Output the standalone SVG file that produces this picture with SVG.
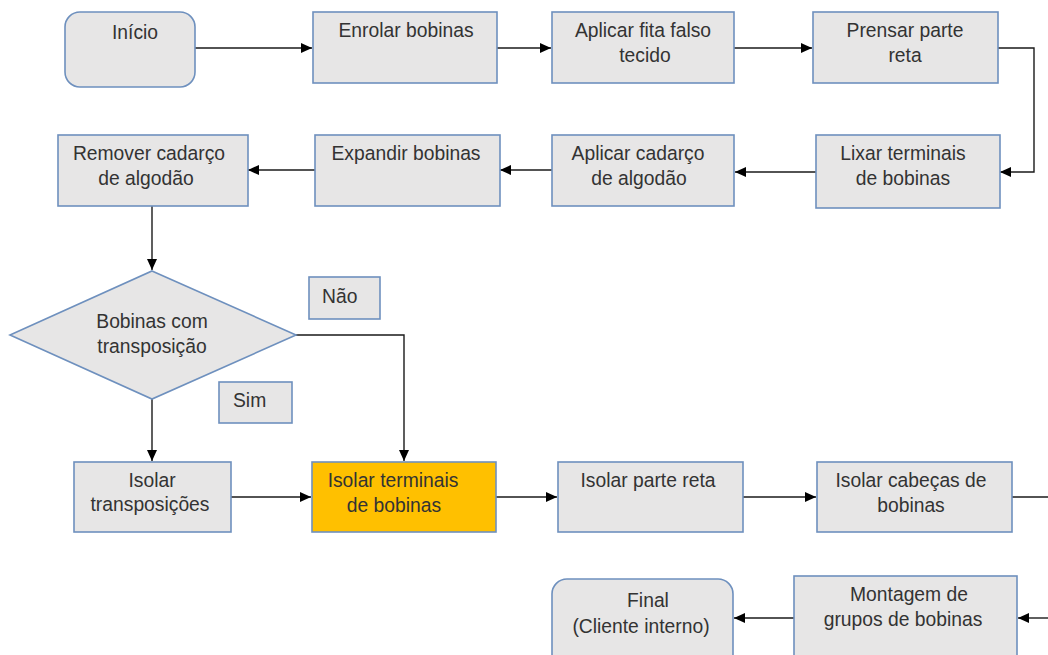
<svg xmlns="http://www.w3.org/2000/svg" width="1048" height="655" viewBox="0 0 1048 655">
<style>
.box{fill:#E7E6E6;stroke:#6E90BE;stroke-width:1.6}
.hl{fill:#FFC000;stroke:#6E90BE;stroke-width:1.6}
.t{font-family:"Liberation Sans",Arial,sans-serif;font-size:19.3px;fill:#333333;text-anchor:middle}
.l{text-anchor:start}
.c{fill:none;stroke:#1a1a1a;stroke-width:1.4}
</style>
<defs>
<marker id="ah" markerUnits="userSpaceOnUse" markerWidth="12" markerHeight="11" refX="11" refY="5" orient="auto">
<path d="M0,0 L11,5 L0,10 z" fill="#000"/>
</marker>
</defs>
<rect width="1048" height="655" fill="#ffffff"/>
<g id="connectors">
<path class="c" d="M195,48 H312" marker-end="url(#ah)"/>
<path class="c" d="M497,48 H551" marker-end="url(#ah)"/>
<path class="c" d="M734,48 H812" marker-end="url(#ah)"/>
<path class="c" d="M998,48 H1034 V172 H1000" marker-end="url(#ah)"/>
<path class="c" d="M816,172 H735" marker-end="url(#ah)"/>
<path class="c" d="M552,170 H500" marker-end="url(#ah)"/>
<path class="c" d="M315,170 H248" marker-end="url(#ah)"/>
<path class="c" d="M152,206 V270" marker-end="url(#ah)"/>
<path class="c" d="M296,335 H404 V461" marker-end="url(#ah)"/>
<path class="c" d="M152,399 V461" marker-end="url(#ah)"/>
<path class="c" d="M231,497 H311" marker-end="url(#ah)"/>
<path class="c" d="M496,497 H557" marker-end="url(#ah)"/>
<path class="c" d="M743,497 H816" marker-end="url(#ah)"/>
<path class="c" d="M1012,497 H1048"/>
<path class="c" d="M1048,618 H1018" marker-end="url(#ah)"/>
<path class="c" d="M794,618 H734" marker-end="url(#ah)"/>
</g>
<g id="inicio">
<rect class="box" x="65" y="12" width="130" height="75" rx="15"/>
<text class="t" x="135" y="39">Início</text>
</g>
<g id="enrolar">
<rect class="box" x="313" y="12" width="184" height="71"/>
<text class="t" x="406" y="37">Enrolar bobinas</text>
</g>
<g id="aplicar-fita">
<rect class="box" x="552" y="12" width="182" height="71"/>
<text class="t" x="643" y="37">Aplicar fita falso</text>
<text class="t" x="645" y="62">tecido</text>
</g>
<g id="prensar">
<rect class="box" x="813" y="12" width="185" height="71"/>
<text class="t" x="905" y="37">Prensar parte</text>
<text class="t" x="905" y="62">reta</text>
</g>
<g id="lixar">
<rect class="box" x="816" y="135" width="184" height="73"/>
<text class="t" x="903" y="160">Lixar terminais</text>
<text class="t" x="903" y="185">de bobinas</text>
</g>
<g id="aplicar-cadarco">
<rect class="box" x="552" y="135" width="182" height="71"/>
<text class="t" x="638" y="160">Aplicar cadarço</text>
<text class="t" x="639" y="185">de algodão</text>
</g>
<g id="expandir">
<rect class="box" x="315" y="135" width="185" height="71"/>
<text class="t" x="406" y="160">Expandir bobinas</text>
</g>
<g id="remover">
<rect class="box" x="58" y="135" width="190" height="71"/>
<text class="t" x="149" y="160">Remover cadarço</text>
<text class="t" x="146" y="185">de algodão</text>
</g>
<g id="decisao">
<polygon class="box" points="152,271 296,335 152,399 10,335"/>
<text class="t" x="152" y="328">Bobinas com</text>
<text class="t" x="152" y="353">transposição</text>
</g>
<g id="nao">
<rect class="box" x="309" y="277" width="71" height="42"/>
<text class="t l" x="322" y="303">Não</text>
</g>
<g id="sim">
<rect class="box" x="219" y="382" width="73" height="41"/>
<text class="t l" x="233" y="407">Sim</text>
</g>
<g id="isolar-transposicoes">
<rect class="box" x="74" y="462" width="157" height="70"/>
<text class="t" x="152" y="487">Isolar</text>
<text class="t" x="150" y="511">transposições</text>
</g>
<g id="isolar-terminais">
<rect class="hl" x="312" y="462" width="184" height="70"/>
<text class="t" x="393" y="487">Isolar terminais</text>
<text class="t" x="394" y="512">de bobinas</text>
</g>
<g id="isolar-parte-reta">
<rect class="box" x="558" y="462" width="185" height="70"/>
<text class="t" x="648" y="487">Isolar parte reta</text>
</g>
<g id="isolar-cabecas">
<rect class="box" x="817" y="462" width="195" height="70"/>
<text class="t" x="911" y="487">Isolar cabeças de</text>
<text class="t" x="911" y="512">bobinas</text>
</g>
<g id="montagem">
<rect class="box" x="794" y="576" width="223" height="95"/>
<text class="t" x="909" y="601">Montagem de</text>
<text class="t" x="903" y="626">grupos de bobinas</text>
</g>
<g id="final">
<rect class="box" x="552" y="579" width="181" height="95" rx="15"/>
<text class="t" x="648" y="607">Final</text>
<text class="t" x="641" y="633">(Cliente interno)</text>
</g>
</svg>
